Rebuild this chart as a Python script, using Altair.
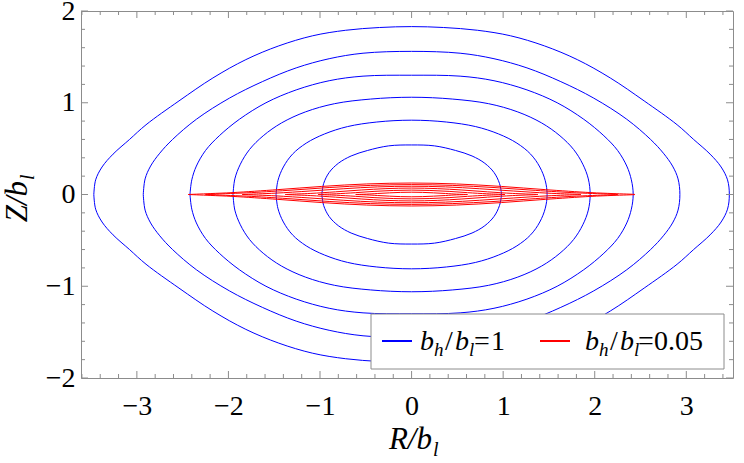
import altair as alt
import pandas as pd

# ---------------- data ----------------
# blue contours, b_h/b_l = 1 (closed curves: left tip -> over the top -> right tip -> under -> left tip)
blue_1_R = [-3.47, -3.45, -3.38, -3.26, -3.08, -2.90, -2.54, -2.17, -1.81, -1.45, -1.08, -0.72, -0.35, 0.0,
            0.35, 0.72, 1.08, 1.45, 1.81, 2.17, 2.54, 2.90, 3.08, 3.26, 3.38, 3.45, 3.47,
            3.45, 3.38, 3.26, 3.08, 2.90, 2.54, 2.17, 1.81, 1.45, 1.08, 0.72, 0.35, 0.0,
            -0.35, -0.72, -1.08, -1.45, -1.81, -2.17, -2.54, -2.90, -3.08, -3.26, -3.38, -3.45, -3.47]
blue_1_Z = [0.0, 0.16, 0.30, 0.44, 0.60, 0.76, 1.02, 1.27, 1.47, 1.62, 1.73, 1.79, 1.82, 1.83,
            1.82, 1.79, 1.73, 1.62, 1.47, 1.27, 1.02, 0.76, 0.60, 0.44, 0.30, 0.16, 0.0,
            -0.16, -0.30, -0.44, -0.60, -0.76, -1.02, -1.27, -1.47, -1.62, -1.73, -1.79, -1.82, -1.83,
            -1.82, -1.79, -1.73, -1.62, -1.47, -1.27, -1.02, -0.76, -0.60, -0.44, -0.30, -0.16, 0.0]

blue_2_R = [-2.93, -2.91, -2.85, -2.75, -2.61, -2.35, -1.99, -1.63, -1.26, -0.90, -0.53, 0.0,
            0.53, 0.90, 1.26, 1.63, 1.99, 2.35, 2.61, 2.75, 2.85, 2.91, 2.93,
            2.91, 2.85, 2.75, 2.61, 2.35, 1.99, 1.63, 1.26, 0.90, 0.53, 0.0,
            -0.53, -0.90, -1.26, -1.63, -1.99, -2.35, -2.61, -2.75, -2.85, -2.91, -2.93]
blue_2_Z = [0.0, 0.17, 0.31, 0.45, 0.60, 0.82, 1.05, 1.23, 1.38, 1.48, 1.54, 1.56,
            1.54, 1.48, 1.38, 1.23, 1.05, 0.82, 0.60, 0.45, 0.31, 0.17, 0.0,
            -0.17, -0.31, -0.45, -0.60, -0.82, -1.05, -1.23, -1.38, -1.48, -1.54, -1.56,
            -1.54, -1.48, -1.38, -1.23, -1.05, -0.82, -0.60, -0.45, -0.31, -0.17, 0.0]

blue_3_R = [-2.42, -2.40, -2.35, -2.25, -2.10, -1.88, -1.59, -1.26, -0.90, -0.53, 0.0,
            0.53, 0.90, 1.26, 1.59, 1.88, 2.10, 2.25, 2.35, 2.40, 2.42,
            2.40, 2.35, 2.25, 2.10, 1.88, 1.59, 1.26, 0.90, 0.53, 0.0,
            -0.53, -0.90, -1.26, -1.59, -1.88, -2.10, -2.25, -2.35, -2.40, -2.42]
blue_3_Z = [0.0, 0.16, 0.31, 0.48, 0.64, 0.82, 1.00, 1.14, 1.24, 1.29, 1.30,
            1.29, 1.24, 1.14, 1.00, 0.82, 0.64, 0.48, 0.31, 0.16, 0.0,
            -0.16, -0.31, -0.48, -0.64, -0.82, -1.00, -1.14, -1.24, -1.29, -1.30,
            -1.29, -1.24, -1.14, -1.00, -0.82, -0.64, -0.48, -0.31, -0.16, 0.0]

blue_4_R = [-1.95, -1.93, -1.87, -1.77, -1.62, -1.42, -1.16, -0.84, -0.45, 0.0,
            0.45, 0.84, 1.16, 1.42, 1.62, 1.77, 1.87, 1.93, 1.95,
            1.93, 1.87, 1.77, 1.62, 1.42, 1.16, 0.84, 0.45, 0.0,
            -0.45, -0.84, -1.16, -1.42, -1.62, -1.77, -1.87, -1.93, -1.95]
blue_4_Z = [0.0, 0.17, 0.33, 0.49, 0.64, 0.78, 0.90, 0.99, 1.04, 1.06,
            1.04, 0.99, 0.90, 0.78, 0.64, 0.49, 0.33, 0.17, 0.0,
            -0.17, -0.33, -0.49, -0.64, -0.78, -0.90, -0.99, -1.04, -1.06,
            -1.04, -0.99, -0.90, -0.78, -0.64, -0.49, -0.33, -0.17, 0.0]

blue_5_R = [-1.48, -1.46, -1.40, -1.30, -1.15, -0.95, -0.70, -0.38, 0.0,
            0.38, 0.70, 0.95, 1.15, 1.30, 1.40, 1.46, 1.48,
            1.46, 1.40, 1.30, 1.15, 0.95, 0.70, 0.38, 0.0,
            -0.38, -0.70, -0.95, -1.15, -1.30, -1.40, -1.46, -1.48]
blue_5_Z = [0.0, 0.15, 0.30, 0.44, 0.56, 0.66, 0.74, 0.79, 0.81,
            0.79, 0.74, 0.66, 0.56, 0.44, 0.30, 0.15, 0.0,
            -0.15, -0.30, -0.44, -0.56, -0.66, -0.74, -0.79, -0.81,
            -0.79, -0.74, -0.66, -0.56, -0.44, -0.30, -0.15, 0.0]

blue_6_R = [-0.98, -0.96, -0.90, -0.80, -0.66, -0.48, -0.25, 0.0,
            0.25, 0.48, 0.66, 0.80, 0.90, 0.96, 0.98,
            0.96, 0.90, 0.80, 0.66, 0.48, 0.25, 0.0,
            -0.25, -0.48, -0.66, -0.80, -0.90, -0.96, -0.98]
blue_6_Z = [0.0, 0.12, 0.24, 0.34, 0.42, 0.48, 0.53, 0.54,
            0.53, 0.48, 0.42, 0.34, 0.24, 0.12, 0.0,
            -0.12, -0.24, -0.34, -0.42, -0.48, -0.53, -0.54,
            -0.53, -0.48, -0.42, -0.34, -0.24, -0.12, 0.0]

# red contours, b_h/b_l = 0.05 (thin lens-shaped curves)
red_1_R = [-2.44, -2.20, -1.95, -1.46, -0.98, -0.49, 0.0, 0.49, 0.98, 1.46, 1.95, 2.20, 2.44,
           2.20, 1.95, 1.46, 0.98, 0.49, 0.0, -0.49, -0.98, -1.46, -1.95, -2.20, -2.44]
red_1_Z = [0.0, 0.010, 0.021, 0.053, 0.088, 0.115, 0.125, 0.115, 0.088, 0.053, 0.021, 0.010, 0.0,
           -0.010, -0.021, -0.053, -0.088, -0.115, -0.125, -0.115, -0.088, -0.053, -0.021, -0.010, 0.0]

red_2_R = [-2.25, -2.03, -1.80, -1.35, -0.90, -0.45, 0.0, 0.45, 0.90, 1.35, 1.80, 2.03, 2.25,
           2.03, 1.80, 1.35, 0.90, 0.45, 0.0, -0.45, -0.90, -1.35, -1.80, -2.03, -2.25]
red_2_Z = [0.0, 0.009, 0.018, 0.045, 0.076, 0.099, 0.108, 0.099, 0.076, 0.045, 0.018, 0.009, 0.0,
           -0.009, -0.018, -0.045, -0.076, -0.099, -0.108, -0.099, -0.076, -0.045, -0.018, -0.009, 0.0]

red_3_R = [-1.85, -1.67, -1.48, -1.11, -0.74, -0.37, 0.0, 0.37, 0.74, 1.11, 1.48, 1.67, 1.85,
           1.67, 1.48, 1.11, 0.74, 0.37, 0.0, -0.37, -0.74, -1.11, -1.48, -1.67, -1.85]
red_3_Z = [0.0, 0.007, 0.015, 0.038, 0.063, 0.083, 0.090, 0.083, 0.063, 0.038, 0.015, 0.007, 0.0,
           -0.007, -0.015, -0.038, -0.063, -0.083, -0.090, -0.083, -0.063, -0.038, -0.015, -0.007, 0.0]

red_4_R = [-1.38, -1.24, -1.10, -0.83, -0.55, -0.28, 0.0, 0.28, 0.55, 0.83, 1.10, 1.24, 1.38,
           1.24, 1.10, 0.83, 0.55, 0.28, 0.0, -0.28, -0.55, -0.83, -1.10, -1.24, -1.38]
red_4_Z = [0.0, 0.006, 0.012, 0.029, 0.049, 0.064, 0.070, 0.064, 0.049, 0.029, 0.012, 0.006, 0.0,
           -0.006, -0.012, -0.029, -0.049, -0.064, -0.070, -0.064, -0.049, -0.029, -0.012, -0.006, 0.0]

red_5_R = [-1.02, -0.92, -0.82, -0.61, -0.41, -0.20, 0.0, 0.20, 0.41, 0.61, 0.82, 0.92, 1.02,
           0.92, 0.82, 0.61, 0.41, 0.20, 0.0, -0.20, -0.41, -0.61, -0.82, -0.92, -1.02]
red_5_Z = [0.0, 0.004, 0.008, 0.020, 0.034, 0.044, 0.048, 0.044, 0.034, 0.020, 0.008, 0.004, 0.0,
           -0.004, -0.008, -0.020, -0.034, -0.044, -0.048, -0.044, -0.034, -0.020, -0.008, -0.004, 0.0]

red_6_R = [-0.61, -0.55, -0.49, -0.37, -0.24, -0.12, 0.0, 0.12, 0.24, 0.37, 0.49, 0.55, 0.61,
           0.55, 0.49, 0.37, 0.24, 0.12, 0.0, -0.12, -0.24, -0.37, -0.49, -0.55, -0.61]
red_6_Z = [0.0, 0.002, 0.004, 0.011, 0.018, 0.023, 0.025, 0.023, 0.018, 0.011, 0.004, 0.002, 0.0,
           -0.002, -0.004, -0.011, -0.018, -0.023, -0.025, -0.023, -0.018, -0.011, -0.004, -0.002, 0.0]

# ticks
x_major = [-3, -2, -1, 0, 1, 2, 3]
x_minor = [-3.6, -3.4, -3.2, -2.8, -2.6, -2.4, -2.2, -1.8, -1.6, -1.4, -1.2, -0.8, -0.6, -0.4, -0.2,
           0.2, 0.4, 0.6, 0.8, 1.2, 1.4, 1.6, 1.8, 2.2, 2.4, 2.6, 2.8, 3.2, 3.4]
y_major = [-2, -1, 0, 1, 2]
y_minor = [-1.8, -1.6, -1.4, -1.2, -0.8, -0.6, -0.4, -0.2, 0.2, 0.4, 0.6, 0.8, 1.2, 1.4, 1.6, 1.8]

# ---------------- layout / style ----------------
W, H = 652, 367
FONT = "Liberation Serif"
FRAME = "#8c8c8c"
BLUE = "#0000ff"
RED = "#ff0000"

xs = alt.Scale(domain=[-3.61, 3.51], nice=False, zero=False)
ys = alt.Scale(domain=[-2, 2], nice=False, zero=False)


def curve_frame(curves):
    rows = []
    for name, R, Z in curves:
        for i, (r, z) in enumerate(zip(R, Z)):
            rows.append({"curve": name, "i": i, "R": r, "Z": z})
    return pd.DataFrame(rows)


blue_df = curve_frame([("b1", blue_1_R, blue_1_Z), ("b2", blue_2_R, blue_2_Z), ("b3", blue_3_R, blue_3_Z),
                       ("b4", blue_4_R, blue_4_Z), ("b5", blue_5_R, blue_5_Z), ("b6", blue_6_R, blue_6_Z)])
red_df = curve_frame([("r1", red_1_R, red_1_Z), ("r2", red_2_R, red_2_Z), ("r3", red_3_R, red_3_Z),
                      ("r4", red_4_R, red_4_Z), ("r5", red_5_R, red_5_Z), ("r6", red_6_R, red_6_Z)])

x_axis = alt.Axis(values=x_major, format="d", domain=False, ticks=False, grid=False,
                  labelFont=FONT, labelFontSize=28, labelColor="black", labelPadding=14,
                  labelFlush=False, labelOverlap=False, title=None)
y_axis = alt.Axis(values=y_major, format="d", domain=False, ticks=False, grid=False,
                  labelFont=FONT, labelFontSize=28, labelColor="black", labelPadding=6,
                  labelFlush=False, labelOverlap=False, title=None)

X = alt.X("R:Q", scale=xs, axis=x_axis)
Y = alt.Y("Z:Q", scale=ys, axis=y_axis)

blue_layer = alt.Chart(blue_df).mark_line(color=BLUE, strokeWidth=1, interpolate="catmull-rom").encode(
    x=X, y=Y, detail="curve:N", order="i:Q")
red_layer = alt.Chart(red_df).mark_line(color=RED, strokeWidth=1, interpolate="catmull-rom").encode(
    x=X, y=Y, detail="curve:N", order="i:Q")

# frame ticks (inward, on all four sides)
xt_major = pd.DataFrame({"R": x_major})
xt_minor = pd.DataFrame({"R": x_minor})
yt_major = pd.DataFrame({"Z": y_major})
yt_minor = pd.DataFrame({"Z": y_minor})


def xticks(df, length):
    base = alt.Chart(df).mark_rule(color=FRAME, strokeWidth=1)
    bottom = base.encode(x=X, y=alt.value(H), y2=alt.value(H - length))
    top = base.encode(x=X, y=alt.value(0), y2=alt.value(length))
    return [bottom, top]


def yticks(df, length):
    base = alt.Chart(df).mark_rule(color=FRAME, strokeWidth=1)
    left = base.encode(y=Y, x=alt.value(0), x2=alt.value(length))
    right = base.encode(y=Y, x=alt.value(W), x2=alt.value(W - length))
    return [left, right]


tick_layers = xticks(xt_major, 7) + xticks(xt_minor, 4) + yticks(yt_major, 7) + yticks(yt_minor, 4)

one = pd.DataFrame({"a": [0]})


def txt(s, x, y, size, italic=True, angle=0, align="left"):
    return alt.Chart(one).mark_text(
        text=s, font=FONT, fontSize=size, fontStyle="italic" if italic else "normal",
        align=align, baseline="alphabetic", angle=angle, color="black",
    ).encode(x=alt.value(x), y=alt.value(y))


# legend (plot-area relative pixel positions)
legend_box = alt.Chart(one).mark_rect(fill="white", stroke=FRAME, strokeWidth=1).encode(
    x=alt.value(290), x2=alt.value(643), y=alt.value(303), y2=alt.value(358))
legend_blue = alt.Chart(one).mark_rule(color=BLUE, strokeWidth=2).encode(
    x=alt.value(301), x2=alt.value(331), y=alt.value(330))
legend_red = alt.Chart(one).mark_rule(color=RED, strokeWidth=2).encode(
    x=alt.value(459), x2=alt.value(489), y=alt.value(330))

LS, SS = 28, 19
legend_text = [
    txt("b", 339, 339, LS), txt("h", 353, 345, SS), txt("/", 364, 339, LS, italic=False),
    txt("b", 374, 339, LS), txt("l", 388, 345, SS), txt("=", 393, 339, LS, italic=False),
    txt("1", 410, 339, LS, italic=False),
    txt("b", 504, 339, LS), txt("h", 518, 345, SS), txt("/", 529, 339, LS, italic=False),
    txt("b", 539, 339, LS), txt("l", 553, 345, SS), txt("=", 557, 339, LS, italic=False),
    txt("0.05", 573, 339, LS, italic=False),
]

# axis titles
TS, TSS = 31, 20
x_title = [txt("R/b", 351, 438, TS, align="right"), txt("l", 352, 445, TSS)]
y_title = [txt("Z/b", -54, 170, TS, angle=270, align="right"), txt("l", -47, 169, TSS, angle=270)]

chart = alt.layer(
    blue_layer, red_layer, *tick_layers, legend_box, legend_blue, legend_red,
    *legend_text, *x_title, *y_title,
).properties(
    width=W, height=H,
    autosize=alt.AutoSizeParams(type="none"),
    padding={"left": 81, "top": 11, "right": 11, "bottom": 85},
).configure_view(stroke=FRAME, strokeWidth=1)

chart.save("out.html", embed_options={"renderer": "svg", "actions": False})
